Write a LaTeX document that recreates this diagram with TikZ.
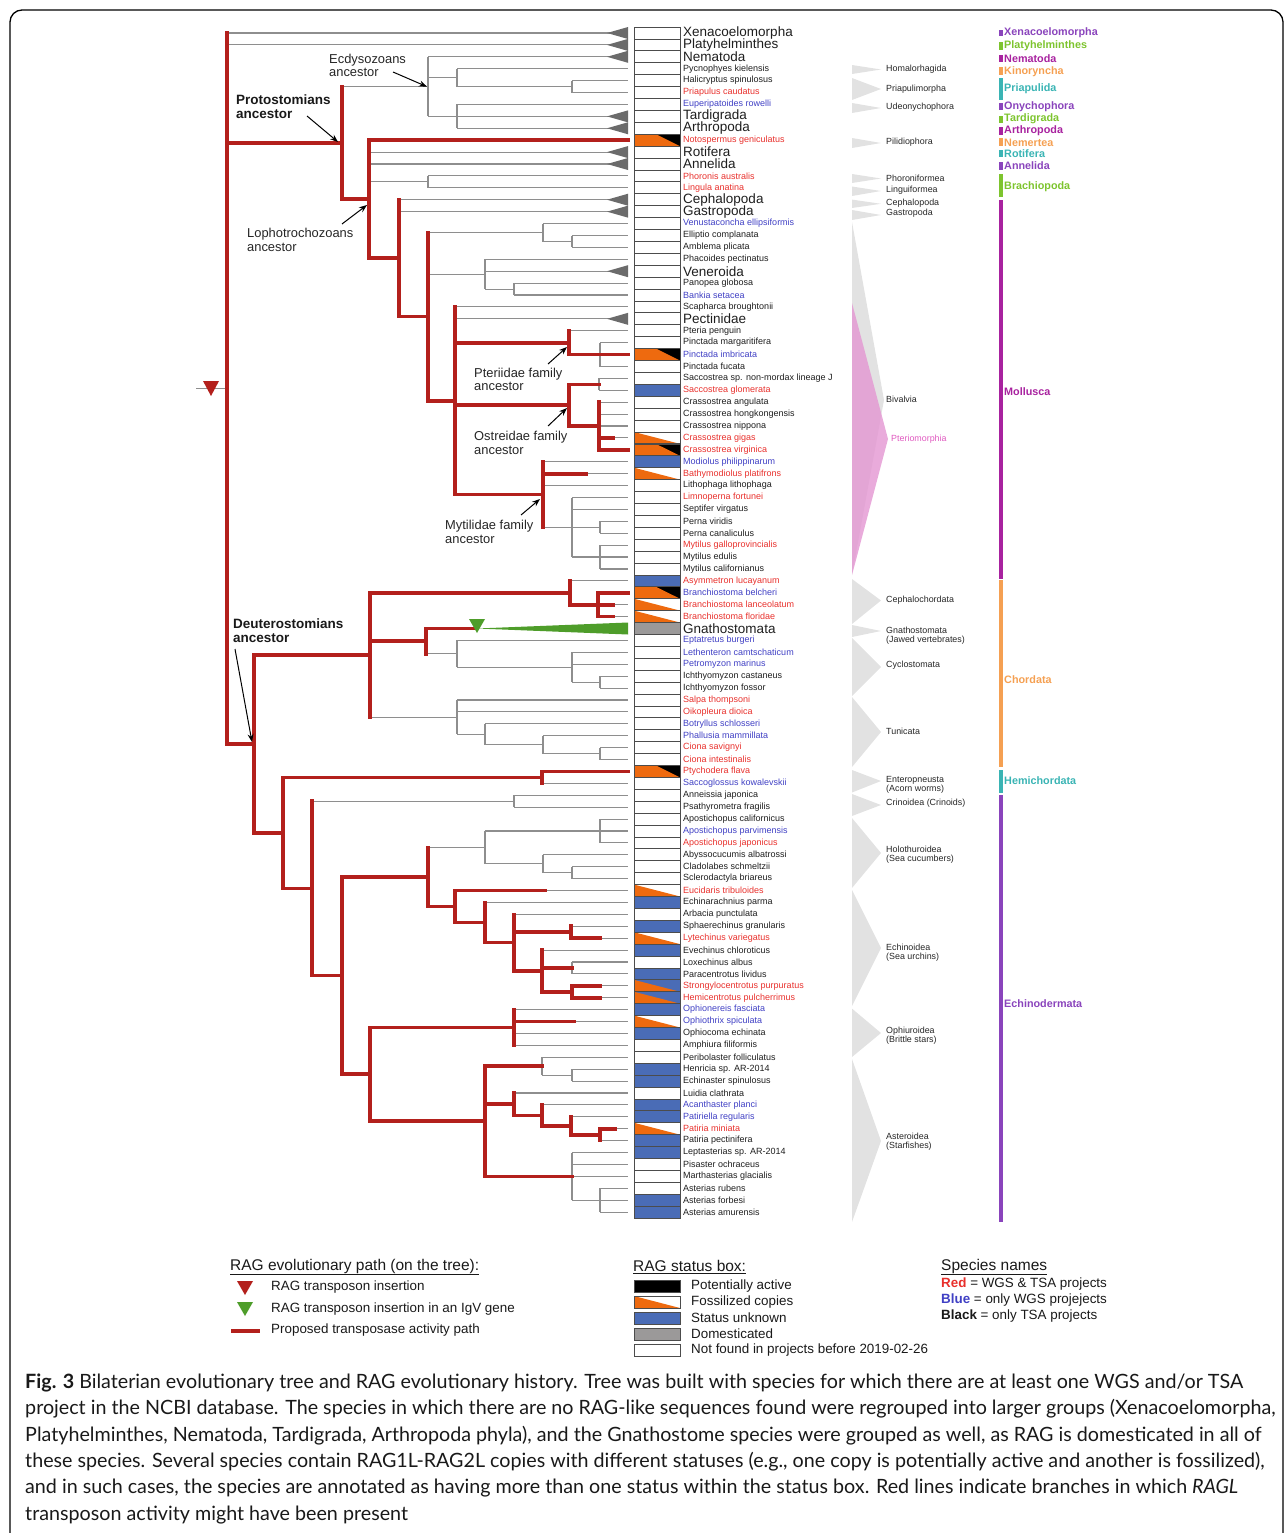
\documentclass[tikz,border=0pt]{standalone}
\usepackage{fontspec}
\setmainfont{Liberation Sans}
\newfontfamily\capfont{Lato}
\usetikzlibrary{arrows.meta}
\definecolor{treered}{HTML}{B3201C}
\definecolor{brgray}{HTML}{8E8E8E}
\definecolor{trigray}{HTML}{6B6B6B}
\definecolor{wedgegray}{HTML}{E2E2E2}
\definecolor{fossil}{HTML}{EE6A0F}
\definecolor{unkblue}{HTML}{4A6CB6}
\definecolor{domgray}{HTML}{9B9999}
\definecolor{nmred}{HTML}{E8302C}
\definecolor{nmblue}{HTML}{4040C4}
\definecolor{nmk}{HTML}{1E1E1E}
\definecolor{igvgreen}{HTML}{4E9D2A}
\definecolor{cpurple}{HTML}{8A44BC}
\definecolor{cgreen}{HTML}{7DC42E}
\definecolor{cmagenta}{HTML}{A8229F}
\definecolor{corange}{HTML}{F5A052}
\definecolor{cteal}{HTML}{3AB4B4}
\definecolor{pinkw}{HTML}{E496D2}
\definecolor{pinktext}{HTML}{E05AC0}
\pgfmathdeclarefunction{ry}{1}{\pgfmathparse{33+(#1-1)*11.91}}
\begin{document}
\begin{tikzpicture}[x=1pt,y=-1pt,
  gb/.style={draw=brgray, line width=1.1pt},
  rb/.style={draw=treered, line width=3.6pt, line cap=rect},
  sbox/.style={draw=black!70, line width=0.8pt},
  nm/.style={anchor=west, inner sep=0pt, font=\fontsize{9}{9.2}\selectfont},
  big/.style={anchor=west, inner sep=0pt, font=\fontsize{13.5}{14}\selectfont, text=nmk},
  ann/.style={align=left, anchor=west, inner sep=0pt, font=\fontsize{12.9}{13.5}\selectfont, text=black!85},
  annb/.style={align=left, anchor=west, inner sep=0pt, font=\fontsize{13.5}{14}\selectfont\bfseries, text=black!90},
  arr/.style={-{Stealth[length=8pt,width=6pt]}, line width=1pt},
  wl/.style={anchor=west, inner sep=0pt, align=left, font=\fontsize{8.9}{9.2}\selectfont, text=black!85},
  cl/.style={anchor=west, inner sep=0pt, font=\fontsize{10.8}{11}\selectfont\bfseries},
  leg/.style={anchor=west, inner sep=0pt, font=\fontsize{13.4}{14}\selectfont, text=black!90},
  legh/.style={anchor=west, inner sep=0pt, font=\fontsize{15.5}{16}\selectfont, text=black!90},
  capl/.style={anchor=west, inner sep=0pt, font=\capfont\fontsize{19.7}{21}\selectfont, text=black!90}]
\useasboundingbox (0,0) rectangle (1285,1533);
\clip (0,0) rectangle (1285,1533);
\draw[line width=1.3pt, rounded corners=12pt] (10,10) rectangle (1283,1600);

% ---------- right side clade wedges ----------
\foreach \a/\b/\t in {65/74/69.5, 78/100/89, 103/113/108, 138/148/143, 174/183/178.5, 186.5/196/191, 199.6/208/203.8, 210/220/215,
  579/624/600.5, 625/637/631, 638/696/667, 697/767/732, 770/792.5/781, 794/816/805, 818/888/853, 890/1006/948, 1008.6/1057/1033, 1059/1222/1141}
  \fill[wedgegray] (852,\a) -- (881,\t) -- (852,\b) -- cycle;
\fill[wedgegray] (852,222) -- (884,400) -- (852,575) -- cycle;
\fill[pinkw, opacity=0.8] (852,303) -- (888,439) -- (852,575) -- cycle;
\node[wl] (wHom) at (886,69) {Homalorhagida};
\node[wl] (wPri) at (886,89) {Priapulimorpha};
\node[wl] (wUde) at (886,107) {Udeonychophora};
\node[wl] (wPil) at (886,142) {Pilidiophora};
\node[wl] (wPho) at (886,178) {Phoroniformea};
\node[wl] (wLin) at (886,190) {Linguiformea};
\node[wl] (wCep) at (886,203) {Cephalopoda};
\node[wl] (wGas) at (886,213) {Gastropoda};
\node[wl] (wBiv) at (886,399) {Bivalvia};
\node[wl, text=pinktext] (wPte) at (891,439) {Pteriomorphia};
\node[wl] (wCph) at (886,600) {Cephalochordata};
\node[wl] (wGna) at (886,635.5) {Gnathostomata\\(Jawed vertebrates)};
\node[wl] (wCyc) at (886,665) {Cyclostomata};
\node[wl] (wTun) at (886,731) {Tunicata};
\node[wl] (wEnt) at (886,784.5) {Enteropneusta\\(Acorn worms)};
\node[wl] (wCri) at (886,803) {Crinoidea (Crinoids)};
\node[wl] (wHol) at (886,855) {Holothuroidea\\(Sea cucumbers)};
\node[wl] (wEch) at (886,953) {Echinoidea\\(Sea urchins)};
\node[wl] (wOph) at (886,1036) {Ophiuroidea\\(Brittle stars)};
\node[wl] (wAst) at (886,1142) {Asteroidea\\(Starfishes)};

% ---------- clade bars ----------
\foreach \a/\b/\y/\c/\t in {29.6/36.5/33/cpurple/Xenacoelomorpha, 42/49.6/46/cgreen/Platyhelminthes, 54.6/62.3/59/cmagenta/Nematoda,
  67/75/72/corange/Kinoryncha, 77.7/100/89/cteal/Priapulida, 102.7/110.4/107/cpurple/Onychophora, 115.8/123.5/119/cgreen/Tardigrada,
  127/134.6/131/cmagenta/Arthropoda, 138.5/146/143/corange/Nemertea, 149.6/157.3/154/cteal/Rotifera, 162.3/170/166/cpurple/Annelida,
  174/197/187/cgreen/Brachiopoda, 199.6/578.5/392/cmagenta/Mollusca, 580/767/680/corange/Chordata, 770/792.5/781/cteal/Hemichordata,
  795/1222/1004/cpurple/Echinodermata}
  {\fill[\c] (999,\a) rectangle (1002.5,\b);
   \node[cl, text=\c] at (1004,\y) {\t};}

% ---------- gray leaf branches ----------
\foreach \r/\x in {1/227,2/227,3/428,4/457,5/572,6/572,7/457,8/428,9/457,11/369,12/369,13/428,14/428,15/399,16/399,17/543,18/572,19/572,
  20/485,21/485,22/514,23/514,24/455,25/455,26/569,27/600,29/600,30/599,31/599,32/599,33/599,34/599,35/599,37/543,38/543,39/543,
  40/572,41/572,42/600,43/600,44/600,45/572,46/600,47/570,49/598,50/598,52/457,53/572,54/572,55/600,56/600,57/457,58/457,59/485,
  60/543,61/600,62/600,64/542,65/514,66/514,67/600,68/485,69/600,70/543,71/572,72/572,73/455,74/485,75/514,76/571,77/571,78/542,
  79/572,80/572,81/572,82/572,83/514,84/514,85/514,86/514,87/542,88/572,89/572,90/514,91/542,92/571,93/600,94/600,95/572,96/572,
  97/572,98/600,99/572,100/600}
  \draw[gb] (\x,{ry(\r)}) -- (628,{ry(\r)});
% gray internal verticals
\foreach \x/\a/\b in {428/56.8/116.4, 457/68.7/86.6, 572/80.6/92.6, 457/104.5/128.3, 428/175.9/187.8, 543/223.6/241.5, 572/235.5/247.4,
  485/259.3/289.1, 514/283.1/295.0, 600/342.7/366.5, 599/378.4/390.3, 572/497.5/557.0, 600/521.3/533.2, 600/545.1/568.9,
  457/640.4/667.2, 572/652.3/682.1, 600/676.1/688.0, 457/699.9/734.2, 485/723.8/744.6, 543/735.7/753.6, 600/747.6/759.5,
  514/795.2/807.1, 485/831.0/863.7, 600/819.0/842.9, 543/854.8/872.7, 572/866.7/878.6, 572/962.0/973.9, 542/1057.2/1075.1,
  572/1069.1/1081.1, 572/1152.5/1200.2, 600/1188.2/1212.0}
  \draw[gb] (\x,\a) -- (\x,\b);
% gray connectors
\foreach \p/\x/\y in {342/428/86.6, 428/457/77.7, 457/572/86.6, 369/428/181.9, 428/543/232.5, 543/572/241.5, 428/485/274.2, 485/514/289.1,
  543/600/527.3, 426/457/653.8, 457/572/667.2, 572/600/682.1, 370/457/717.1, 457/485/734.2, 485/543/744.6, 543/600/753.6,
  312/514/801.2, 428/485/847.3, 485/543/863.7, 543/572/872.7, 542/572/1075.1}
  \draw[gb] (\p,\y) -- (\x,\y);
% root stem
\draw[gb] (196,388.5) -- (227,388.5);

% collapsed clade triangles
\foreach \r in {1,2,3,8,9,11,12,15,16,21,25}
  \fill[trigray] (607,{ry(\r)}) -- (628,{ry(\r)-6}) -- (628,{ry(\r)+6}) -- cycle;

% ---------- red (activity) branches ----------
\foreach \x/\a/\b in {227/33/744, 342/86.6/199.2, 369/140.2/258.2, 399/199.7/316.6, 428/232.5/400.7, 455/306.9/494.5,
  569/330.7/354.6, 569/384.3/426.0, 599/402.2/449.8, 543/461.8/527.3,
  254/654.9/832.9, 370/592.8/717.1, 570/580.9/604.7, 598/592.8/616.6, 426/628.5/653.8,
  283/777.4/888.4, 542/771.4/783.3, 312/801.2/975.5, 342/876.9/1074.2, 428/847.3/906.5, 455/890.5/922.5, 485/902.4/942.6,
  514/914.3/970.9, 571/926.2/938.1, 542/950.0/991.8, 572/985.8/997.7, 370/1027.5/1121.2, 514/1009.6/1045.3,
  485/1066.2/1176.3, 514/1093.0/1115.4, 542/1104.9/1125.8, 571/1116.8/1134.7, 600/1128.7/1140.6}
  \draw[rb] (\x,\a) -- (\x,\b);
\foreach \a/\b/\y in {227/342/142.9, 342/369/199.2, 369/628/140.2, 369/399/258.2, 399/428/316.6, 428/455/400.7,
  455/569/342.7, 569/628/354.6, 455/569/405.2, 569/599/384.3, 569/599/426.0, 599/613/437.9, 599/628/449.8,
  455/543/494.5, 543/586/473.7,
  227/254/744, 254/370/654.9, 370/570/592.8, 570/598/604.7, 598/628/592.8, 598/613/604.7, 598/613/616.6,
  370/426/641.2, 426/477/628.5,
  254/283/832.9, 283/542/777.4, 542/628/771.4, 283/312/888.4, 312/342/975.5, 342/428/876.9, 428/455/906.5,
  455/545/890.5, 455/485/922.5, 485/514/942.6, 514/571/932.2, 571/600/938.1, 514/542/970.9, 542/572/968.0,
  542/572/991.8, 572/600/985.8, 572/600/997.7, 342/370/1074.2, 370/514/1027.5, 514/574/1021.5, 370/485/1121.2,
  485/542/1066.2, 485/514/1104.2, 514/542/1115.4, 542/571/1125.8, 571/600/1134.7, 600/615/1128.7, 485/572/1176.3}
  \draw[rb] (\a,\y) -- (\b,\y);

% markers
\fill[treered] (203,381) -- (219,381) -- (211,396) -- cycle;
\fill[igvgreen] (477,628.5) -- (628,622.5) -- (628,634.5) -- cycle;
\fill[igvgreen] (469,619) -- (485,619) -- (477,633) -- cycle;

% ---------- status boxes ----------
\foreach \r in {31,37,47,74,76,78,80,81,82,83,85,88,89,91,92,94,95,99,100}
  \fill[unkblue] (634,{ry(\r)-5.95}) rectangle (680,{ry(\r)+5.95});
\fill[domgray] (634,{ry(51)-5.95}) rectangle (680,{ry(51)+5.95});
\foreach \r in {35,38,49,50,73,77,84,93,81,82}
  \fill[fossil] (634,{ry(\r)-5.95}) -- (680,{ry(\r)+5.95}) -- (634,{ry(\r)+5.95}) -- cycle;
\foreach \r in {10,28,36,48,63}
  {\fill[black] (634,{ry(\r)-5.95}) rectangle (680,{ry(\r)+5.95});
   \fill[fossil] (634,{ry(\r)-5.95}) -- (656,{ry(\r)-5.95}) -- (680,{ry(\r)+5.95}) -- (634,{ry(\r)+5.95}) -- cycle;}
\foreach \r in {1,...,100}
  \draw[sbox] (634,{ry(\r)-5.95}) rectangle (680,{ry(\r)+5.95});

% ---------- names ----------
\foreach \r/\t in {1/Xenacoelomorpha, 2/Platyhelminthes, 3/Nematoda, 8/Tardigrada, 9/Arthropoda, 11/Rotifera, 12/Annelida,
  15/Cephalopoda, 16/Gastropoda, 21/Veneroida, 25/Pectinidae, 51/Gnathostomata}
  \node[big] (n\r) at (683,{ry(\r)}) {\t};
\foreach \r/\t/\c in {4/Pycnophyes kielensis/nmk, 5/Halicryptus spinulosus/nmk, 6/Priapulus caudatus/nmred, 7/Euperipatoides rowelli/nmblue,
  10/Notospermus geniculatus/nmred, 13/Phoronis australis/nmred, 14/Lingula anatina/nmred, 17/Venustaconcha ellipsiformis/nmblue,
  18/Elliptio complanata/nmk, 19/Amblema plicata/nmk, 20/Phacoides pectinatus/nmk, 22/Panopea globosa/nmk, 23/Bankia setacea/nmblue,
  24/Scapharca broughtonii/nmk, 26/Pteria penguin/nmk, 27/Pinctada margaritifera/nmk, 28/Pinctada imbricata/nmblue,
  29/Pinctada fucata/nmk, 30/Saccostrea sp. non-mordax lineage J/nmk, 31/Saccostrea glomerata/nmred, 32/Crassostrea angulata/nmk,
  33/Crassostrea hongkongensis/nmk, 34/Crassostrea nippona/nmk, 35/Crassostrea gigas/nmred, 36/Crassostrea virginica/nmred,
  37/Modiolus philippinarum/nmblue, 38/Bathymodiolus platifrons/nmred, 39/Lithophaga lithophaga/nmk, 40/Limnoperna fortunei/nmred,
  41/Septifer virgatus/nmk, 42/Perna viridis/nmk, 43/Perna canaliculus/nmk, 44/Mytilus galloprovincialis/nmred, 45/Mytilus edulis/nmk,
  46/Mytilus californianus/nmk, 47/Asymmetron lucayanum/nmred, 48/Branchiostoma belcheri/nmblue, 49/Branchiostoma lanceolatum/nmred,
  50/Branchiostoma floridae/nmred, 52/Eptatretus burgeri/nmblue, 53/Lethenteron camtschaticum/nmblue, 54/Petromyzon marinus/nmblue,
  55/Ichthyomyzon castaneus/nmk, 56/Ichthyomyzon fossor/nmk, 57/Salpa thompsoni/nmred, 58/Oikopleura dioica/nmred,
  59/Botryllus schlosseri/nmblue, 60/Phallusia mammillata/nmblue, 61/Ciona savignyi/nmred, 62/Ciona intestinalis/nmred,
  63/Ptychodera flava/nmred, 64/Saccoglossus kowalevskii/nmblue, 65/Anneissia japonica/nmk, 66/Psathyrometra fragilis/nmk,
  67/Apostichopus californicus/nmk, 68/Apostichopus parvimensis/nmblue, 69/Apostichopus japonicus/nmred,
  70/Abyssocucumis albatrossi/nmk, 71/Cladolabes schmeltzii/nmk, 72/Sclerodactyla briareus/nmk, 73/Eucidaris tribuloides/nmred,
  74/Echinarachnius parma/nmk, 75/Arbacia punctulata/nmk, 76/Sphaerechinus granularis/nmk, 77/Lytechinus variegatus/nmred,
  78/Evechinus chloroticus/nmk, 79/Loxechinus albus/nmk, 80/Paracentrotus lividus/nmk, 81/Strongylocentrotus purpuratus/nmred,
  82/Hemicentrotus pulcherrimus/nmred, 83/Ophionereis fasciata/nmblue, 84/Ophiothrix spiculata/nmblue, 85/Ophiocoma echinata/nmk,
  86/Amphiura filiformis/nmk, 87/Peribolaster folliculatus/nmk, 88/Henricia sp. AR-2014/nmk, 89/Echinaster spinulosus/nmk,
  90/Luidia clathrata/nmk, 91/Acanthaster planci/nmblue, 92/Patiriella regularis/nmblue, 93/Patiria miniata/nmred,
  94/Patiria pectinifera/nmk, 95/Leptasterias sp. AR-2014/nmk, 96/Pisaster ochraceus/nmk, 97/Marthasterias glacialis/nmk,
  98/Asterias rubens/nmk, 99/Asterias forbesi/nmk, 100/Asterias amurensis/nmk}
  \node[nm, text=\c] (n\r) at (683,{ry(\r)}) {\t};

% ---------- annotations ----------
\node[ann] (aEcd) at (329,65.5) {Ecdysozoans\\ancestor};
\coordinate (tEcd) at (427,86.7);
\draw[arr] (393,72) -- (tEcd);
\node[annb] (aPro) at (236,107) {Protostomians\\ancestor};
\coordinate (tPro) at (338,142);
\draw[arr] (307,116) -- (tPro);
\node[ann] (aLop) at (247,240) {Lophotrochozoans\\ancestor};
\coordinate (tLop) at (367,205);
\draw[arr] (342,224) -- (tLop);
\node[ann] (aPte) at (474,379.5) {Pteriidae family\\ancestor};
\coordinate (tPte) at (567,347);
\draw[arr] (548,364) -- (tPte);
\node[ann] (aOst) at (474,443) {Ostreidae family\\ancestor};
\coordinate (tOst) at (567,408);
\draw[arr] (548,426) -- (tOst);
\node[ann] (aMyt) at (445,532) {Mytilidae family\\ancestor};
\coordinate (tMyt) at (540,499);
\draw[arr] (521,515) -- (tMyt);
\node[annb] (aDeu) at (233,631) {Deuterostomians\\ancestor};
\coordinate (tDeu) at (252,742);
\draw[arr] (235,649) -- (tDeu);

% ---------- legend ----------
\node[legh] (lg1) at (230,1267) {\underline{RAG evolutionary path (on the tree):}};
\fill[treered] (237,1281) -- (253,1281) -- (245,1295) -- cycle;
\node[leg] (lg1a) at (271,1287) {RAG transposon insertion};
\fill[igvgreen] (237,1302) -- (253,1302) -- (245,1316) -- cycle;
\node[leg] (lg1b) at (271,1309) {RAG transposon insertion in an IgV gene};
\draw[treered, line width=3.6pt] (231,1331) -- (260,1331);
\node[leg] (lg1c) at (271,1330) {Proposed transposase activity path};

\node[legh] (lg2) at (633,1267) {\underline{RAG status box:}};
\fill[black] (634,1280) rectangle (680,1292);
\fill[fossil] (634,1296) -- (680,1308) -- (634,1308) -- cycle;
\fill[unkblue] (634,1312) rectangle (680,1324);
\fill[domgray] (634,1328) rectangle (680,1340);
\foreach \yy in {1280,1296,1312,1328,1344}
  \draw[sbox] (634,\yy) rectangle (680,\yy+12);
\node[leg] (lg2a) at (691,1286) {Potentially active};
\node[leg] (lg2b) at (691,1302) {Fossilized copies};
\node[leg] (lg2c) at (691,1318) {Status unknown};
\node[leg] (lg2d) at (691,1334) {Domesticated};
\node[leg] (lg2e) at (691,1350) {Not found in projects before 2019-02-26};

\node[legh] (lg3) at (941,1267) {\underline{Species names}};
\node[leg] (lg3a) at (941,1284) {\textbf{\color{nmred}Red} = WGS \& TSA projects};
\node[leg] (lg3b) at (941,1300) {\textbf{\color{nmblue}Blue} = only WGS projejects};
\node[leg] (lg3c) at (941,1316) {\textbf{Black} = only TSA projects};

% ---------- caption ----------
\node[capl] (c1) at (25,1383) {\textbf{Fig. 3} Bilaterian evolutionary tree and RAG evolutionary history. Tree was built with species for which there are at least one WGS and/or TSA};
\node[capl] (c2) at (25,1409) {project in the NCBI database. The species in which there are no RAG-like sequences found were regrouped into larger groups (Xenacoelomorpha,};
\node[capl] (c3) at (25,1436) {Platyhelminthes, Nematoda, Tardigrada, Arthropoda phyla), and the Gnathostome species were grouped as well, as RAG is domesticated in all of};
\node[capl] (c4) at (25,1462) {these species. Several species contain RAG1L-RAG2L copies with different statuses (e.g., one copy is potentially active and another is fossilized),};
\node[capl] (c5) at (25,1488) {and in such cases, the species are annotated as having more than one status within the status box. Red lines indicate branches in which \textit{RAGL}};
\node[capl] (c6) at (25,1515) {transposon activity might have been present};
\end{tikzpicture}
\end{document}
